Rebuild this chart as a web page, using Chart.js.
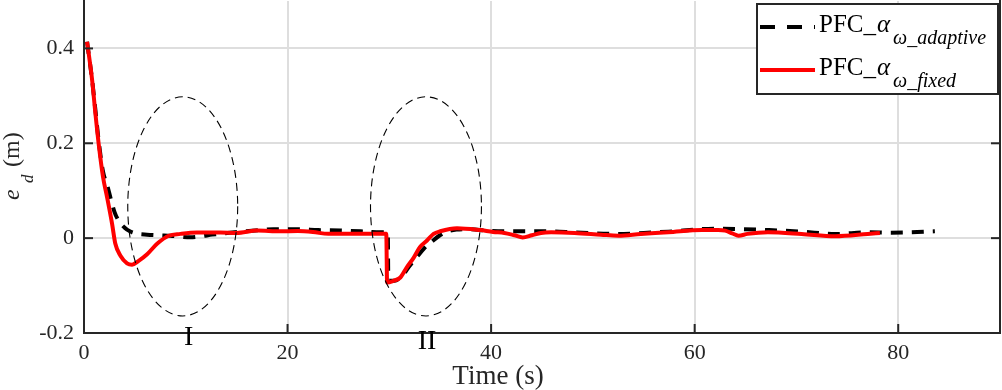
<!DOCTYPE html>
<html><head><meta charset="utf-8">
<script src="https://cdn.jsdelivr.net/npm/chart.js@4/dist/chart.umd.min.js"></script>
<style>html,body{margin:0;padding:0;background:#fff;overflow:hidden}#wrap{position:relative;width:1002px;height:390px}</style>
</head><body><div id="wrap"><canvas id="c" width="1002" height="390"></canvas></div>
<script>
// ---- data ----
const tFixed = [0.3,0.8,1.12,1.44,1.87,2.27,2.76,3.08,3.58,4.23,4.72,5.37,6.2,7.18,8.32,9.47,11.1,13.4,15.0,17.0,19.3,21.0,22.5,24.0,26.0,28.0,29.7,29.78,30.4,31.08,31.7,32.4,33.0,33.7,34.35,35.0,36.65,38.9,40.2,41.3,42.3,43.1,44.0,44.9,45.9,48.2,50.8,52.5,54.7,57.4,60.7,62.3,63.0,63.7,64.3,65.2,67.2,70.5,73.8,77.0,78.2];
const eFixed = [0.414,0.333,0.263,0.199,0.129,0.086,0.030,-0.012,-0.037,-0.053,-0.056,-0.048,-0.034,-0.012,0.005,0.009,0.012,0.012,0.011,0.016,0.0144,0.015,0.013,0.009,0.009,0.009,0.009,-0.0935,-0.09,-0.083,-0.062,-0.041,-0.019,-0.005,0.009,0.0145,0.021,0.017,0.013,0.011,0.006,0.0015,0.006,0.011,0.0123,0.011,0.0074,0.0053,0.0088,0.0123,0.0173,0.0173,0.0159,0.010,0.0053,0.009,0.0123,0.0088,0.0039,0.0088,0.011];
const tAdaptive = [0.3,0.8,1.12,1.44,1.87,2.3,2.6,3.0,3.4,4.0,4.55,5.3,6.2,7.5,8.5,9.5,10.45,11.5,12.6,13.7,14.8,16.8,18.6,19.3,21.0,23.0,25.2,27.2,29.1,29.85,29.9,30.5,31.3,32.0,32.7,33.4,34.2,34.9,35.6,36.6,38.0,39.5,41.2,43.6,45.7,48.2,52.5,55.0,57.4,60.7,62.5,64.6,67.2,70.5,73.8,77.0,79.3,81.3,83.6];
const eAdaptive = [0.414,0.333,0.27,0.205,0.14,0.11,0.085,0.055,0.037,0.022,0.014,0.009,0.0074,0.006,0.005,0.003,0.0018,0.004,0.0074,0.010,0.0123,0.016,0.019,0.019,0.019,0.017,0.016,0.0144,0.0123,0.012,-0.09,-0.09,-0.078,-0.058,-0.04,-0.022,-0.007,0.005,0.013,0.018,0.019,0.016,0.0144,0.0144,0.0144,0.0123,0.0088,0.011,0.0137,0.019,0.02,0.019,0.017,0.0137,0.0088,0.0123,0.0116,0.0123,0.0144];
const xTicks = [0,20,40,60,80];
const xTickLabels = ['0','20','40','60','80'];
const yTicks = [-0.2,0,0.2,0.4];
const yTickLabels = ['-0.2','0','0.2','0.4'];
const legendMain = ['PFC_','PFC_'];
const legendGreek = ['α','α'];
const legendSub = ['ω_adaptive','ω_fixed'];
const ellipseCx = [9.7,33.6];
const ellipseCy = [0.067,0.067];
const ellipseRx = [5.4,5.45];
const ellipseRy = [0.231,0.231];
const ellipseLabels = ['I','II'];
const xTitle = 'Time (s)';
const yTitleMain = 'e', yTitleSub = 'd', yTitleUnit = '(m)';

const toPts = (t,e) => t.map((v,i)=>({x:v,y:e[i]}));
const AX = '#262626';
const SERIF = '"Liberation Serif", "Times New Roman", serif';

const extras = {
  id:'extras',
  afterDatasetsDraw(chart){
    const ctx = chart.ctx, a = chart.chartArea, xs = chart.scales.x, ys = chart.scales.y;
    ctx.save();
    ctx.strokeStyle = AX; ctx.lineWidth = 2; ctx.setLineDash([]);
    ctx.beginPath(); ctx.moveTo(a.right, a.top-1); ctx.lineTo(a.right, a.bottom+1); ctx.stroke();
    yTicks.forEach(v=>{const p=ys.getPixelForValue(v);
      ctx.beginPath(); ctx.moveTo(a.left,p); ctx.lineTo(a.left+9,p); ctx.stroke();
      ctx.beginPath(); ctx.moveTo(a.right,p); ctx.lineTo(a.right-9,p); ctx.stroke();});
    xTicks.forEach(v=>{const p=xs.getPixelForValue(v);
      ctx.beginPath(); ctx.moveTo(p,a.bottom); ctx.lineTo(p,a.bottom-9); ctx.stroke();});
    ctx.strokeStyle = '#000'; ctx.lineWidth = 1.1; ctx.setLineDash([8,5]);
    ellipseCx.forEach((cx,i)=>{
      const px = xs.getPixelForValue(cx), py = ys.getPixelForValue(ellipseCy[i]);
      const rx = Math.abs(xs.getPixelForValue(cx+ellipseRx[i])-px);
      const ry = Math.abs(ys.getPixelForValue(ellipseCy[i]+ellipseRy[i])-py);
      ctx.beginPath(); ctx.ellipse(px,py,rx,ry,0,0,Math.PI*2); ctx.stroke();
    });
    ctx.setLineDash([]);
    ctx.restore();
  },
  afterDraw(chart){
    const ctx = chart.ctx, a = chart.chartArea, xs = chart.scales.x;
    ctx.save();
    ctx.fillStyle = '#000'; ctx.textBaseline = 'alphabetic';
    ctx.font = '28px ' + SERIF; ctx.textAlign = 'center';
    ellipseLabels.forEach((s,i)=>{
      ctx.fillText(s, xs.getPixelForValue(ellipseCx[i]) + (i===0?6:1), a.bottom + 12 + (i===0?0:4));
    });
    ctx.fillStyle = AX;
    ctx.font = '27px ' + SERIF; ctx.textAlign = 'center';
    ctx.fillText(xTitle, 498, 384);
    ctx.save(); ctx.translate(19, 200); ctx.rotate(-Math.PI/2); ctx.textAlign = 'left';
    ctx.font = 'italic 24px ' + SERIF; ctx.fillText(yTitleMain, 0, 0);
    ctx.font = 'italic 17px ' + SERIF; ctx.fillText(yTitleSub, 17, 14);
    ctx.font = '24px ' + SERIF; ctx.fillText(yTitleUnit, 33, 0);
    ctx.restore();
    const lx = 757, ly = 4, lw = 241, lh = 90;
    ctx.fillStyle = '#fff'; ctx.fillRect(lx,ly,lw,lh);
    ctx.strokeStyle = AX; ctx.lineWidth = 2; ctx.strokeRect(lx,ly,lw,lh);
    const ds = chart.data.datasets;
    const rows = [{y:27,base:32,sub:44,ds:ds[0]},{y:70,base:75,sub:87,ds:ds[1]}];
    rows.forEach((r,i)=>{
      ctx.strokeStyle = r.ds.borderColor; ctx.lineWidth = 4;
      ctx.setLineDash(r.ds.borderDash && r.ds.borderDash.length ? [15,12] : []);
      ctx.beginPath(); ctx.moveTo(760,r.y); ctx.lineTo(815,r.y); ctx.stroke();
      ctx.setLineDash([]);
      ctx.fillStyle = '#000'; ctx.textAlign='left';
      let x = 819;
      ctx.font = '25px ' + SERIF; ctx.fillText(legendMain[i], x, r.base); x += ctx.measureText(legendMain[i]).width;
      ctx.font = 'italic 25px ' + SERIF; ctx.fillText(legendGreek[i], x+1, r.base); x += ctx.measureText(legendGreek[i]).width + 4;
      ctx.font = 'italic 20px ' + SERIF; ctx.fillText(legendSub[i], x, r.sub);
    });
    ctx.restore();
  }
};

new Chart(document.getElementById('c'), {
  type:'line',
  data:{datasets:[
    {label:'PFC_α ω_adaptive', data:toPts(tAdaptive,eAdaptive), borderColor:'#000', borderWidth:4, borderDash:[12,9],
     pointRadius:0, cubicInterpolationMode:'monotone', fill:false, order:2},
    {label:'PFC_α ω_fixed', data:toPts(tFixed,eFixed), borderColor:'#ff0000', borderWidth:4,
     pointRadius:0, cubicInterpolationMode:'monotone', fill:false, order:1}
  ]},
  options:{
    responsive:false, animation:false, devicePixelRatio:1,
    layout:{padding:{top:1,right:2,left:0,bottom:0}},
    plugins:{legend:{display:false}, tooltip:{enabled:false}},
    scales:{
      x:{type:'linear', min:0, max:90,
        afterBuildTicks:s=>{s.ticks = xTicks.map(v=>({value:v}));},
        afterFit:s=>{s.height = 57; s.paddingLeft = 0; s.paddingRight = 0;},
        ticks:{autoSkip:false, maxRotation:0, padding:7, color:AX, font:{family:SERIF,size:22},
          callback:(v)=>xTickLabels[xTicks.indexOf(v)]},
        grid:{color:'#dedede', lineWidth:2, drawTicks:false},
        border:{display:true, color:AX, width:2}},
      y:{type:'linear', min:-0.2, max:0.5,
        afterBuildTicks:s=>{s.ticks = yTicks.map(v=>({value:v}));},
        afterFit:s=>{s.width = 84; s.paddingTop = 0; s.paddingBottom = 0;},
        ticks:{padding:10, color:AX, font:{family:SERIF,size:22},
          callback:(v)=>yTickLabels[yTicks.findIndex(t=>Math.abs(t-v)<1e-9)]},
        grid:{color:'#dedede', lineWidth:2, drawTicks:false},
        border:{display:true, color:AX, width:2}}
    }
  },
  plugins:[extras]
});
</script></body></html>
